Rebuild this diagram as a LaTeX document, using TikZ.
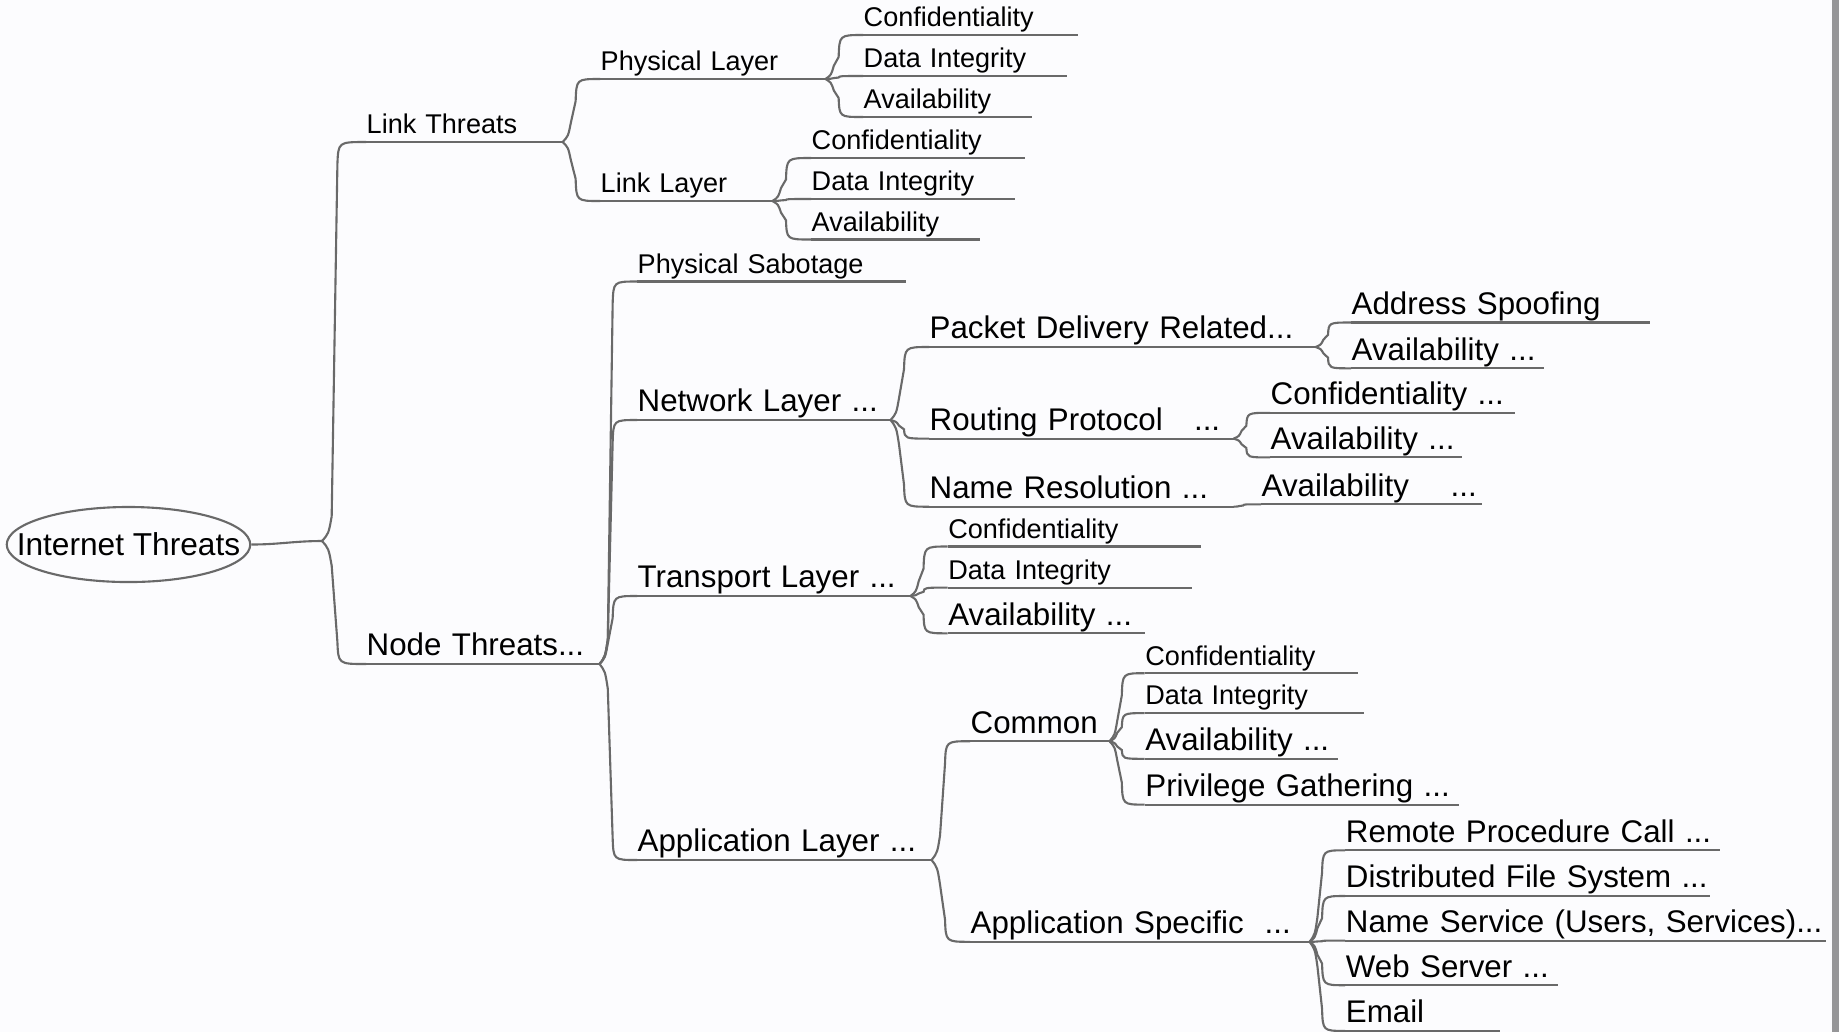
\documentclass[tikz,border=0pt]{standalone}
\usepackage{fontspec}
\setmainfont{Liberation Sans}
\usepackage{tikz}
\usetikzlibrary{shapes.geometric, calc}
\definecolor{bggray}{RGB}{252,252,254}
\definecolor{linegray}{RGB}{105,105,105}
\definecolor{framegray}{RGB}{150,150,152}
\tikzstyle{line} = [draw=linegray, line width=0.6pt]
\tikzstyle{topic} = [anchor=south west, inner xsep=0pt, inner ysep=0pt, text depth=0.75mm, align=left,
                     execute at begin node={\hbox\bgroup}, execute at end node={\egroup}]
\tikzstyle{big} = [font=\fontsize{8.9pt}{11pt}\selectfont]
\tikzstyle{small} = [font=\fontsize{7.7pt}{9pt}\selectfont]
\tikzstyle{hub} = [ellipse, draw=linegray, line width=0.6pt, minimum width=2.43cm, minimum height=0.75cm,
                   inner xsep=-2.56mm, inner ysep=0pt, font=\fontsize{9pt}{11pt}\selectfont]
\tikzset{
  branch/.style={line, to path={
    let \p1=(\tikztostart), \p2=(\tikztotarget),
        \n1={\x2-\x1},
        \n2={\y2-\y1},
        \n3={max(min(0.3*(\n2), 7pt), -7pt)},
        \n4={max(min(0.5*(\n2), 6.3pt), -6.3pt)}
    in .. controls ({\x1+0.15*\n1},{\y1+0.3*(\n3)}) .. ({\x1+0.22*\n1},{\y1+\n3})
       -- ({\x1+0.35*\n1},{\y2-(\n4)})
       .. controls ({\x1+0.37*\n1},{\y2}) .. (\x2,\y2)}}
}

\begin{document}
\begin{tikzpicture}[x=0.01cm, y=-0.01cm]
    % Canvas
    \fill[bggray] (0,0) rectangle (1839,1032);
    \fill[framegray] (1832,0) rectangle (1839,1032);
    \useasboundingbox (0,0) rectangle (1839,1032);

    % Central topic
    \node[hub] (root) at (128.5,544.5) {Internet Threats};
    \coordinate (rootjn) at (322,541);
    \draw[line] (root.east) to[out=0, in=180] (rootjn);

    % Link Threats
    \node[topic, small, text width=19.5mm] (lt) at (366,142) {Link Threats};
    \node[topic, small, text width=22.4mm] (pl) at (600,79) {Physical Layer};
    \node[topic, small, text width=17.1mm] (ll) at (600,201) {Link Layer};

    \node[topic, small, text width=21.3mm] (plconf) at (863,35) {Confidentiality};
    \node[topic, small, text width=20.2mm] (pldata) at (863,76) {Data Integrity};
    \node[topic, small, text width=16.7mm] (plavail) at (863,117) {Availability};

    \node[topic, small, text width=21.2mm] (llconf) at (811,158) {Confidentiality};
    \node[topic, small, text width=20.2mm] (lldata) at (811,199) {Data Integrity};
    \node[topic, small, text width=16.7mm] (llavail) at (811,239.5) {Availability};

    % Node Threats
    \node[topic, big, text width=23.2mm] (nt) at (366,664) {Node Threats...};
    \node[topic, small, text width=26.7mm] (ps) at (637,281.5) {Physical Sabotage};
    \node[topic, big, text width=25.2mm] (nl) at (637,420) {Network Layer ...};
    \node[topic, big, text width=27.2mm] (tl) at (637,596) {Transport Layer ...};
    \node[topic, big, text width=29.3mm] (al) at (637,860) {Application Layer ...};

    % Network Layer
    \node[topic, big, text width=38.5mm] (pd) at (929,347) {Packet Delivery Related...};
    \node[topic, big, text width=30.3mm] (rp) at (929,438.6) {Routing Protocol~~~...};
    \node[topic, big, text width=30.3mm] (nr) at (929,506.7) {Name Resolution ...};

    \node[topic, big, text width=29.7mm] (spoof) at (1351,322.5) {Address Spoofing};
    \node[topic, big, text width=19.1mm] (pdavail) at (1351,368.3) {Availability ...};
    \node[topic, big, text width=24.3mm] (rpconf) at (1270,412.8) {Confidentiality ...};
    \node[topic, big, text width=19.0mm] (rpavail) at (1270,457.4) {Availability ...};
    \node[topic, big, text width=21.9mm] (nravail) at (1261,504.3) {Availability~~~~...};

    % Transport Layer
    \node[topic, small, text width=25.2mm] (tlconf) at (947.6,546.5) {Confidentiality};
    \node[topic, small, text width=24.3mm] (tldata) at (947.6,587.6) {Data Integrity};
    \node[topic, big, text width=19.6mm] (tlavail) at (947.6,633.3) {Availability ...};

    % Application Layer
    \node[topic, big, text width=13.8mm] (common) at (970,741.2) {Common};
    \node[topic, big, text width=33.8mm] (appspec) at (970,941.8) {Application Specific~~...};

    \node[topic, small, text width=21.2mm] (cconf) at (1144.7,673.2) {Confidentiality};
    \node[topic, small, text width=21.8mm] (cdata) at (1144.7,713.1) {Data Integrity};
    \node[topic, big, text width=19.2mm] (cavail) at (1144.7,758.8) {Availability ...};
    \node[topic, big, text width=31.3mm] (cpriv) at (1144.7,804.6) {Privilege Gathering ...};

    \node[topic, big, text width=37.3mm] (rpc) at (1345.2,850.3) {Remote Procedure Call ...};
    \node[topic, big, text width=36.3mm] (dfs) at (1345.2,896) {Distributed File System ...};
    \node[topic, big, text width=47.9mm] (ns) at (1345.2,940.6) {Name Service (Users, Services)...};
    \node[topic, big, text width=21.1mm] (web) at (1345.2,985.2) {Web Server ...};
    \node[topic, big, text width=15.3mm] (email) at (1345.2,1030.9) {Email};

    % Underlines
    \foreach \tp in {lt,pl,ll,plconf,pldata,plavail,llconf,lldata,llavail,
                     nt,ps,nl,tl,al,pd,rp,nr,spoof,pdavail,rpconf,rpavail,nravail,
                     tlconf,tldata,tlavail,common,appspec,cconf,cdata,cavail,cpriv,
                     rpc,dfs,ns,web,email}
        \draw[line] (\tp.south west) -- (\tp.south east);

    % Branches
    \draw[branch] (rootjn) to (lt.south west);
    \draw[branch] (rootjn) to (nt.south west);
    \foreach \ch in {pl,ll} \draw[branch] (lt.south east) to (\ch.south west);
    \foreach \ch in {plconf,pldata,plavail} \draw[branch] (pl.south east) to (\ch.south west);
    \foreach \ch in {llconf,lldata,llavail} \draw[branch] (ll.south east) to (\ch.south west);
    \foreach \ch in {ps,nl,tl,al} \draw[branch] (nt.south east) to (\ch.south west);
    \foreach \ch in {pd,rp,nr} \draw[branch] (nl.south east) to (\ch.south west);
    \foreach \ch in {spoof,pdavail} \draw[branch] (pd.south east) to (\ch.south west);
    \foreach \ch in {rpconf,rpavail} \draw[branch] (rp.south east) to (\ch.south west);
    \draw[branch] (nr.south east) to (nravail.south west);
    \foreach \ch in {tlconf,tldata,tlavail} \draw[branch] (tl.south east) to (\ch.south west);
    \foreach \ch in {common,appspec} \draw[branch] (al.south east) to (\ch.south west);
    \foreach \ch in {cconf,cdata,cavail,cpriv} \draw[branch] (common.south east) to (\ch.south west);
    \foreach \ch in {rpc,dfs,ns,web,email} \draw[branch] (appspec.south east) to (\ch.south west);
\end{tikzpicture}
\end{document}
